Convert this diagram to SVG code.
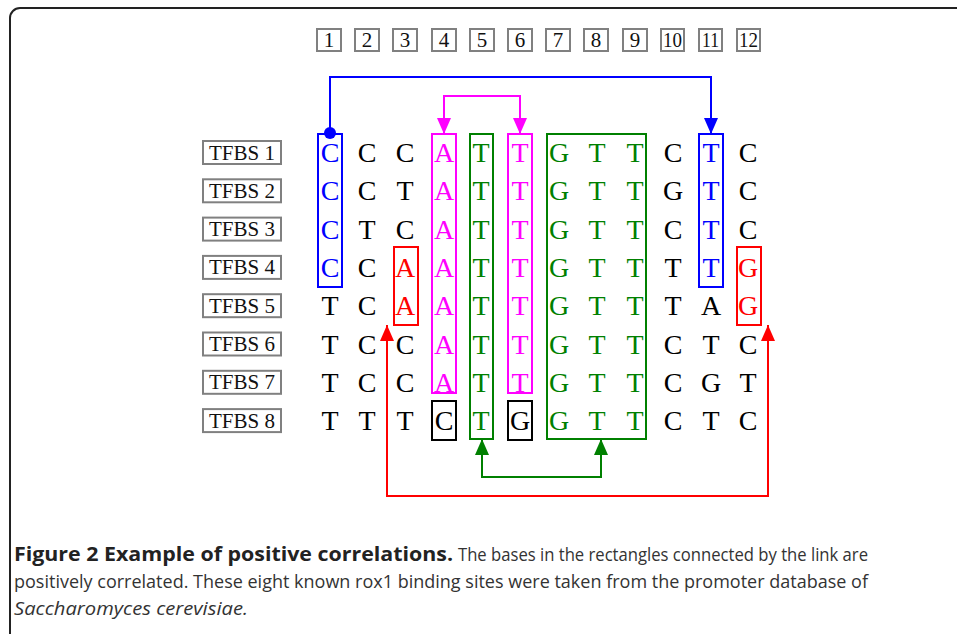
<svg xmlns="http://www.w3.org/2000/svg" width="957" height="636" viewBox="0 0 957 636">
<style>
.num{fill:#fff;stroke:#808080;stroke-width:2}
.numt{font-family:"Liberation Serif",serif;font-size:21px;fill:#111;text-anchor:middle}
.lab{fill:#fff;stroke:#808080;stroke-width:2}
.labt{font-family:"Liberation Serif",serif;font-size:21px;fill:#111;text-anchor:middle}
.b{font-family:"Liberation Serif",serif;font-size:28px;text-anchor:middle;fill:#000}
.bl{fill:#0000ff}.mg{fill:#ff00ff}.gr{fill:#008000}.rd{fill:#ff0000}
.hl{fill:none;stroke-width:2}
.cap{font-family:"Open Sans","Noto Sans",sans-serif;font-size:19px;fill:#333}
.conn{fill:none;stroke-width:2}
</style>
<defs>
<marker id="aB" viewBox="0 0 16 14" refX="16" refY="7" markerWidth="16" markerHeight="14" markerUnits="userSpaceOnUse" orient="auto-start-reverse"><path d="M0,0 L16,7 L0,14 z" fill="#0000ff"/></marker>
<marker id="aM" viewBox="0 0 16 14" refX="16" refY="7" markerWidth="16" markerHeight="14" markerUnits="userSpaceOnUse" orient="auto-start-reverse"><path d="M0,0 L16,7 L0,14 z" fill="#ff00ff"/></marker>
<marker id="aG" viewBox="0 0 16 14" refX="16" refY="7" markerWidth="16" markerHeight="14" markerUnits="userSpaceOnUse" orient="auto-start-reverse"><path d="M0,0 L16,7 L0,14 z" fill="#008000"/></marker>
<marker id="aR" viewBox="0 0 16 14" refX="16" refY="7" markerWidth="16" markerHeight="14" markerUnits="userSpaceOnUse" orient="auto-start-reverse"><path d="M0,0 L16,7 L0,14 z" fill="#ff0000"/></marker>
</defs>
<rect width="957" height="636" fill="#fff"/>
<path d="M957,8 H20 A10,10 0 0 0 10,18 V634" fill="none" stroke="#222" stroke-width="2"/>

<g id="numbers">
<rect class="num" x="317" y="29" width="24" height="22"/><text class="numt" x="329" y="47">1</text>
<rect class="num" x="355" y="29" width="24" height="22"/><text class="numt" x="367" y="47">2</text>
<rect class="num" x="393" y="29" width="24" height="22"/><text class="numt" x="405" y="47">3</text>
<rect class="num" x="432" y="29" width="24" height="22"/><text class="numt" x="444" y="47">4</text>
<rect class="num" x="470" y="29" width="24" height="22"/><text class="numt" x="482" y="47">5</text>
<rect class="num" x="508" y="29" width="24" height="22"/><text class="numt" x="520" y="47">6</text>
<rect class="num" x="546" y="29" width="24" height="22"/><text class="numt" x="558" y="47">7</text>
<rect class="num" x="584" y="29" width="24" height="22"/><text class="numt" x="596" y="47">8</text>
<rect class="num" x="623" y="29" width="24" height="22"/><text class="numt" x="635" y="47">9</text>
<rect class="num" x="661" y="29" width="23" height="22"/><text class="numt" x="672.5" y="47" textLength="19" lengthAdjust="spacingAndGlyphs">10</text>
<rect class="num" x="699" y="29" width="23" height="22"/><text class="numt" x="710.5" y="47" textLength="17" lengthAdjust="spacingAndGlyphs">11</text>
<rect class="num" x="737" y="29" width="23" height="22"/><text class="numt" x="748.5" y="47" textLength="19" lengthAdjust="spacingAndGlyphs">12</text>
</g>

<g id="labels">
<rect class="lab" x="203" y="141" width="78" height="23"/><text class="labt" x="242" y="159.5">TFBS 1</text>
<rect class="lab" x="203" y="179.3" width="78" height="23"/><text class="labt" x="242" y="197.8">TFBS 2</text>
<rect class="lab" x="203" y="217.6" width="78" height="23"/><text class="labt" x="242" y="236.1">TFBS 3</text>
<rect class="lab" x="203" y="255.9" width="78" height="23"/><text class="labt" x="242" y="274.4">TFBS 4</text>
<rect class="lab" x="203" y="294.2" width="78" height="23"/><text class="labt" x="242" y="312.7">TFBS 5</text>
<rect class="lab" x="203" y="332.5" width="78" height="23"/><text class="labt" x="242" y="351">TFBS 6</text>
<rect class="lab" x="203" y="370.8" width="78" height="23"/><text class="labt" x="242" y="389.3">TFBS 7</text>
<rect class="lab" x="203" y="409.1" width="78" height="23"/><text class="labt" x="242" y="427.6">TFBS 8</text>
</g>

<g id="bases">
<text class="b" y="162"><tspan x="330" class="bl">C</tspan><tspan x="367">C</tspan><tspan x="405">C</tspan><tspan x="444" class="mg">A</tspan><tspan x="481" class="gr">T</tspan><tspan x="520" class="mg">T</tspan><tspan x="559" class="gr">G</tspan><tspan x="597" class="gr">T</tspan><tspan x="635" class="gr">T</tspan><tspan x="673">C</tspan><tspan x="711" class="bl">T</tspan><tspan x="748">C</tspan></text>
<text class="b" y="200.3"><tspan x="330" class="bl">C</tspan><tspan x="367">C</tspan><tspan x="405">T</tspan><tspan x="444" class="mg">A</tspan><tspan x="481" class="gr">T</tspan><tspan x="520" class="mg">T</tspan><tspan x="559" class="gr">G</tspan><tspan x="597" class="gr">T</tspan><tspan x="635" class="gr">T</tspan><tspan x="673">G</tspan><tspan x="711" class="bl">T</tspan><tspan x="748">C</tspan></text>
<text class="b" y="238.6"><tspan x="330" class="bl">C</tspan><tspan x="367">T</tspan><tspan x="405">C</tspan><tspan x="444" class="mg">A</tspan><tspan x="481" class="gr">T</tspan><tspan x="520" class="mg">T</tspan><tspan x="559" class="gr">G</tspan><tspan x="597" class="gr">T</tspan><tspan x="635" class="gr">T</tspan><tspan x="673">C</tspan><tspan x="711" class="bl">T</tspan><tspan x="748">C</tspan></text>
<text class="b" y="276.9"><tspan x="330" class="bl">C</tspan><tspan x="367">C</tspan><tspan x="405" class="rd">A</tspan><tspan x="444" class="mg">A</tspan><tspan x="481" class="gr">T</tspan><tspan x="520" class="mg">T</tspan><tspan x="559" class="gr">G</tspan><tspan x="597" class="gr">T</tspan><tspan x="635" class="gr">T</tspan><tspan x="673">T</tspan><tspan x="711" class="bl">T</tspan><tspan x="748" class="rd">G</tspan></text>
<text class="b" y="315.2"><tspan x="330">T</tspan><tspan x="367">C</tspan><tspan x="405" class="rd">A</tspan><tspan x="444" class="mg">A</tspan><tspan x="481" class="gr">T</tspan><tspan x="520" class="mg">T</tspan><tspan x="559" class="gr">G</tspan><tspan x="597" class="gr">T</tspan><tspan x="635" class="gr">T</tspan><tspan x="673">T</tspan><tspan x="711">A</tspan><tspan x="748" class="rd">G</tspan></text>
<text class="b" y="353.5"><tspan x="330">T</tspan><tspan x="367">C</tspan><tspan x="405">C</tspan><tspan x="444" class="mg">A</tspan><tspan x="481" class="gr">T</tspan><tspan x="520" class="mg">T</tspan><tspan x="559" class="gr">G</tspan><tspan x="597" class="gr">T</tspan><tspan x="635" class="gr">T</tspan><tspan x="673">C</tspan><tspan x="711">T</tspan><tspan x="748">C</tspan></text>
<text class="b" y="391.8"><tspan x="330">T</tspan><tspan x="367">C</tspan><tspan x="405">C</tspan><tspan x="444" class="mg">A</tspan><tspan x="481" class="gr">T</tspan><tspan x="520" class="mg">T</tspan><tspan x="559" class="gr">G</tspan><tspan x="597" class="gr">T</tspan><tspan x="635" class="gr">T</tspan><tspan x="673">C</tspan><tspan x="711">G</tspan><tspan x="748">T</tspan></text>
<text class="b" y="430.1"><tspan x="330">T</tspan><tspan x="367">T</tspan><tspan x="405">T</tspan><tspan x="444">C</tspan><tspan x="481" class="gr">T</tspan><tspan x="520">G</tspan><tspan x="559" class="gr">G</tspan><tspan x="597" class="gr">T</tspan><tspan x="635" class="gr">T</tspan><tspan x="673">C</tspan><tspan x="711">T</tspan><tspan x="748">C</tspan></text>
</g>

<g id="highlights">
<rect class="hl" x="318" y="134" width="24" height="153" stroke="#0000ff"/>
<rect class="hl" x="699" y="134" width="24" height="153" stroke="#0000ff"/>
<rect class="hl" x="394" y="247" width="24" height="78" stroke="#ff0000"/>
<rect class="hl" x="737" y="247" width="24" height="78" stroke="#ff0000"/>
<rect class="hl" x="432" y="134" width="24" height="259" stroke="#ff00ff"/>
<rect class="hl" x="508" y="134" width="24" height="259" stroke="#ff00ff"/>
<rect class="hl" x="470" y="134" width="23" height="305" stroke="#008000"/>
<rect class="hl" x="547" y="134" width="99" height="305" stroke="#008000"/>
<rect class="hl" x="432" y="401" width="24" height="39" stroke="#000"/>
<rect class="hl" x="508" y="401" width="24" height="39" stroke="#000"/>
</g>

<g id="connectors">
<circle cx="330" cy="133" r="6" fill="#0000ff"/>
<path class="conn" d="M330,133 V77 H711 V134" stroke="#0000ff" marker-end="url(#aB)"/>
<path class="conn" d="M444,134 V96 H520 V134" stroke="#ff00ff" marker-start="url(#aM)" marker-end="url(#aM)"/>
<path class="conn" d="M482,439 V477 H601 V439" stroke="#008000" marker-start="url(#aG)" marker-end="url(#aG)"/>
<path class="conn" d="M387,325 V496 H768 V325" stroke="#ff0000" marker-start="url(#aR)" marker-end="url(#aR)"/>
</g>

<g id="caption">
<text class="cap" x="14" y="561" font-weight="bold" textLength="439" lengthAdjust="spacingAndGlyphs" style="fill:#222">Figure 2 Example of positive correlations.</text>
<text class="cap" x="458" y="561" textLength="410" lengthAdjust="spacingAndGlyphs">The bases in the rectangles connected by the link are</text>
<text class="cap" x="14" y="588" textLength="854" lengthAdjust="spacingAndGlyphs">positively correlated. These eight known rox1 binding sites were taken from the promoter database of</text>
<text class="cap" x="14" y="615" font-style="italic" textLength="234" lengthAdjust="spacingAndGlyphs">Saccharomyces cerevisiae.</text>
</g>
</svg>
